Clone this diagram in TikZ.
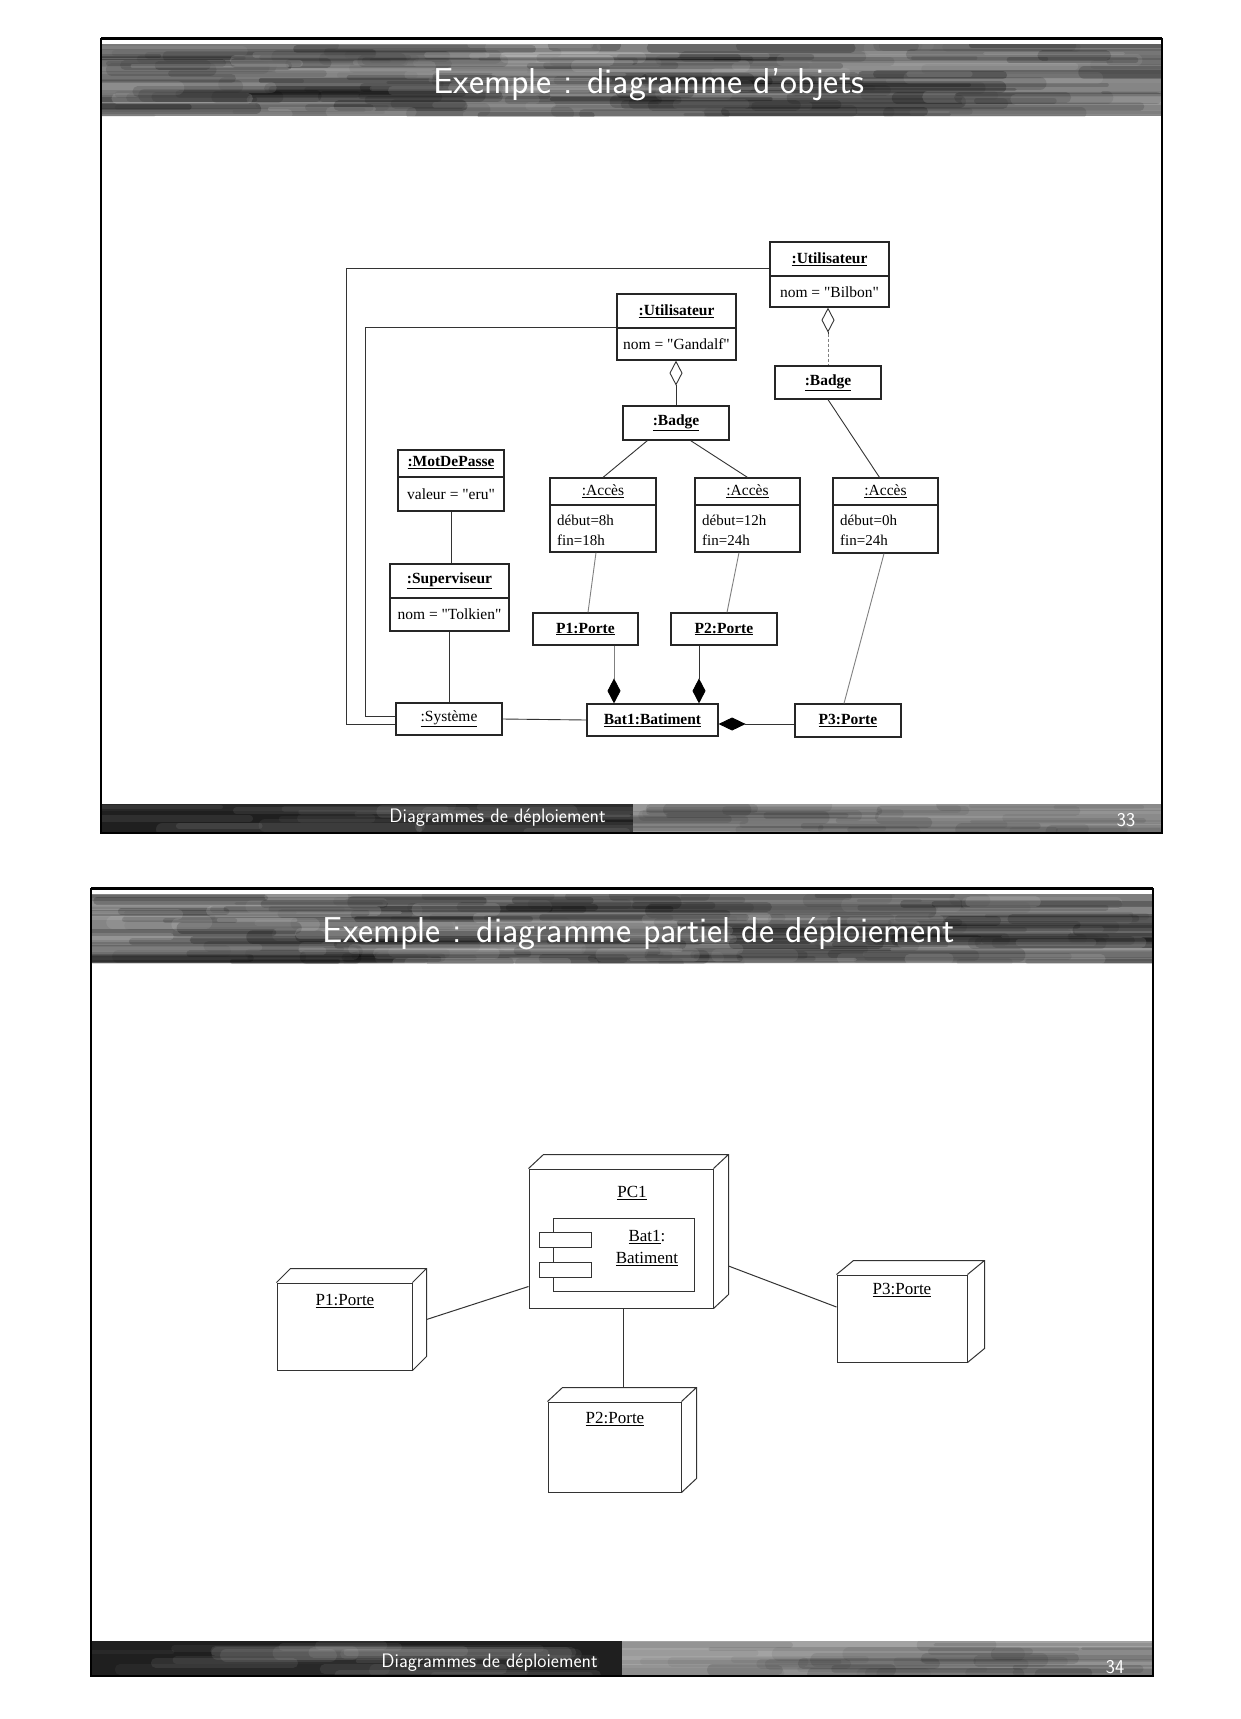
\documentclass[tikz,border=0pt]{standalone}
\usepackage{fontspec}
\setmainfont{Liberation Serif}
\usetikzlibrary{arrows.meta,calc}
\font\umlq="Liberation Serif" at 15.5pt
\newcommand{\dq}{{\umlq"}}
\newcommand{\uln}[1]{\underline{#1}}
% streak texture: x1 y1 x2 y2 count colour opacitymax
\newcommand{\streaks}[7]{%
  \begin{scope}
    \clip (#1,#2) rectangle (#3,#4);
    \foreach \i in {1,...,#5} {
      \pgfmathsetmacro{\sx}{#1+rnd*(#3-#1)}
      \pgfmathsetmacro{\sy}{#2+rnd*(#4-#2)}
      \pgfmathsetmacro{\sl}{60+rnd*340}
      \pgfmathsetmacro{\sw}{3+rnd*11}
      \pgfmathsetmacro{\so}{0.04+rnd*#7}
      \draw[line width=\sw pt, line cap=round, #6, opacity=\so] (\sx-\sl/2,\sy) -- (\sx+\sl/2,\sy);
    }
  \end{scope}}
\newcommand{\threed}[3]{%
  \draw[box3] (#1.north west) -- ++(#2,#3) -- ($(#1.north east)+(#2,#3)$) -- ($(#1.south east)+(#2,#3)$) -- (#1.south east)
              (#1.north east) -- ++(#2,#3);}
\begin{document}
\begin{tikzpicture}[x=1pt,y=-1pt,
  obj/.style={draw=black!85, line width=1.2pt, inner sep=0pt, font=\fontsize{15.5}{19}\selectfont\bfseries},
  objr/.style={obj, font=\fontsize{15.5}{19}\selectfont},
  hd/.style={inner sep=0pt, font=\fontsize{15.5}{19}\selectfont\bfseries},
  hdr/.style={inner sep=0pt, font=\fontsize{15.5}{19}\selectfont},
  att/.style={inner sep=0pt, font=\fontsize{15}{20}\selectfont, align=left, anchor=west},
  div/.style={draw=black!85, line width=1.2pt},
  lnk/.style={draw=black!80, line width=0.9pt},
  faint/.style={draw=black!50, line width=0.9pt},
  odia/.style={{Diamond[open,length=25pt,width=13pt,black!80]}-},
  fdia/.style={-{Diamond[length=25pt,width=13pt,black]}},
  sdia/.style={{Diamond[length=27pt,width=13pt,black]}-},
  box3/.style={draw=black!80, line width=1pt, inner sep=0pt},
  lbl/.style={inner sep=0pt, font=\fontsize{17}{20}\selectfont},
  ttl/.style={inner sep=0pt, text=white, font=\sffamily\fontsize{36}{40}\selectfont},
  ftr/.style={inner sep=0pt, text=white, font=\sffamily\fontsize{19.5}{22}\selectfont}]
\useasboundingbox (0,0) rectangle (1240,1719);
\fill[white] (0,0) rectangle (1240,1719);
\pgfmathsetseed{11}

% ================= slide 1 frame =================
\fill[black!48] (101,44) rectangle (1162,116);
\streaks{101}{44}{1162}{116}{140}{black}{0.22}
\streaks{101}{44}{1162}{116}{50}{white}{0.10}
\fill[black!88] (101,804) rectangle (633,833);
\streaks{101}{804}{633}{833}{20}{white}{0.05}
\fill[black!36] (633,804) rectangle (1162,833);
\streaks{633}{804}{1162}{833}{35}{black}{0.08}
\draw[line width=3pt] (101,38) -- (1162,38);
\draw[line width=2pt] (101,38) -- (101,833) -- (1162,833) -- (1162,38);
\node[ttl] (t1) at (649,85) {Exemple : diagramme d’objets};
\node[ftr, anchor=east] (f1) at (606,818) {Diagrammes de déploiement};
\node[ftr] (n1) at (1126,820) {33};

% ================= object diagram =================
\node[obj, minimum width=119pt, minimum height=65pt] (bilbon) at (829.5,274.5) {};
\node[hd] (bilbonH) at (829.5,259) {\uln{:Utilisateur}};
\node[hdr] (bilbonA) at (829.5,292) {nom = \dq Bilbon\dq};
\draw[div] (bilbon.west |- 0,276) -- (bilbon.east |- 0,276);

\node[obj, minimum width=119pt, minimum height=66pt] (gandalf) at (676.5,327) {};
\node[hd] (gandalfH) at (676.5,311) {\uln{:Utilisateur}};
\node[hdr] (gandalfA) at (676.5,344) {nom = \dq Gandalf\dq};
\draw[div] (gandalf.west |- 0,328) -- (gandalf.east |- 0,328);

\node[obj, minimum width=106pt, minimum height=34pt] (badge1) at (676,423) {\uln{:Badge}};
\node[obj, minimum width=106pt, minimum height=33pt] (badge2) at (828,382.5) {\uln{:Badge}};

\node[obj, minimum width=106pt, minimum height=61pt] (mdp) at (451,480.5) {};
\node[hd] (mdpH) at (451,463) {\uln{:MotDePasse}};
\node[hdr] (mdpA) at (451,494) {valeur = \dq eru\dq};
\draw[div] (mdp.west |- 0,477) -- (mdp.east |- 0,477);

\node[obj, minimum width=119pt, minimum height=67pt] (sup) at (449.5,597.5) {};
\node[hd] (supH) at (449.5,581) {\uln{:Superviseur}};
\node[hdr] (supA) at (449.5,614) {nom = \dq Tolkien\dq};
\draw[div] (sup.west |- 0,598) -- (sup.east |- 0,598);

\node[objr, minimum width=106pt, minimum height=32pt] (sys) at (449,719) {\uln{:Système}};
\node[obj, minimum width=131pt, minimum height=32pt] (bat1) at (652.5,720) {\uln{Bat1:Batiment}};

\node[obj, minimum width=106pt, minimum height=74pt] (acc1) at (603,515) {};
\node[hdr] (acc1H) at (603,491) {\uln{:Accès}};
\node[att] (acc1A) at (557,530) {début=8h\\fin=18h};
\draw[div] (acc1.west |- 0,505) -- (acc1.east |- 0,505);

\node[obj, minimum width=105pt, minimum height=74pt] (acc2) at (747.5,515) {};
\node[hdr] (acc2H) at (747.5,491) {\uln{:Accès}};
\node[att] (acc2A) at (702,530) {début=12h\\fin=24h};
\draw[div] (acc2.west |- 0,505) -- (acc2.east |- 0,505);

\node[obj, minimum width=105pt, minimum height=75pt] (acc3) at (885.5,515.5) {};
\node[hdr] (acc3H) at (885.5,491) {\uln{:Accès}};
\node[att] (acc3A) at (840,530) {début=0h\\fin=24h};
\draw[div] (acc3.west |- 0,505) -- (acc3.east |- 0,505);

\node[obj, minimum width=105pt, minimum height=32pt] (p1) at (585.5,629) {\uln{P1:Porte}};
\node[obj, minimum width=106pt, minimum height=32pt] (p2) at (724,629) {\uln{P2:Porte}};
\node[obj, minimum width=106pt, minimum height=33pt] (p3) at (848,720.5) {\uln{P3:Porte}};

\coordinate (d1) at (614,0);
\coordinate (d2) at (699,0);
\coordinate (d3) at (0,724);

% connectors
\draw[lnk] (bilbon.west |- 0,268) -| (346,724) -- (sys.west |- 0,724);
\draw[lnk] (gandalf.west |- 0,327) -| (365,716) -- (sys.west |- 0,716);
\draw[lnk] (mdp.south) -- (mdp.south |- sup.north);
\draw[lnk] (sup.south) -- (sup.south |- sys.north);
\draw[lnk] (sys.east) -- (bat1.west);
\draw[lnk, odia] (badge1.north |- gandalf.south) -- (badge1.north);
\draw[lnk, odia] (badge2.north |- bilbon.south) -- ++(0,26);
\draw[faint, densely dashed] ($(badge2.north |- bilbon.south)+(0,26)$) -- (badge2.north);
\draw[lnk] ($(badge1.south west)+(25,0)$) -- (acc1.north);
\draw[lnk] ($(badge1.south east)+(-39,0)$) -- (acc2.north);
\draw[lnk] (badge2.south) -- ($(acc3.north)+(-6,0)$);
\draw[faint] ($(acc1.south)+(-7,0)$) -- ($(p1.north)+(2.5,0)$);
\draw[faint] ($(acc2.south)+(-8.5,0)$) -- ($(p2.north)+(3,0)$);
\draw[faint] ($(acc3.south)+(-1.5,0)$) -- ($(p3.north)+(-4,0)$);
\draw[faint, fdia] (p1.south -| d1) -- (bat1.north -| d1);
\draw[lnk, fdia] (p2.south -| d2) -- (bat1.north -| d2);
\draw[lnk, sdia] (bat1.east |- d3) -- (p3.west |- d3);

% ================= slide 2 frame =================
\fill[black!48] (91,894) rectangle (1153,963);
\streaks{91}{894}{1153}{963}{140}{black}{0.22}
\streaks{91}{894}{1153}{963}{50}{white}{0.10}
\fill[black!88] (91,1641) rectangle (622,1676);
\streaks{91}{1641}{622}{1676}{20}{white}{0.05}
\fill[black!36] (622,1641) rectangle (1153,1676);
\streaks{622}{1641}{1153}{1676}{35}{black}{0.08}
\draw[line width=3pt] (91,888) -- (1153,888);
\draw[line width=2pt] (91,888) -- (91,1676) -- (1153,1676) -- (1153,888);
\node[ttl] (t2) at (639,934) {Exemple : diagramme partiel de déploiement};
\node[ftr, anchor=east] (f2) at (598,1663) {Diagrammes de déploiement};
\node[ftr] (n2) at (1115,1667) {34};

% ================= deployment diagram =================
\node[box3, minimum width=184pt, minimum height=139pt] (pc1) at (621,1238.5) {};
\threed{pc1}{15}{-14}
\node[lbl] (pc1L) at (632,1193) {\uln{PC1}};
\node[box3, minimum width=141pt, minimum height=73pt] (cmp) at (623.5,1254.5) {};
\node[box3, fill=white, minimum width=52pt, minimum height=15pt] (cmpA) at (565,1239.5) {};
\node[box3, fill=white, minimum width=52pt, minimum height=15pt] (cmpB) at (565,1269.5) {};
\node[lbl] (cmpL1) at (647,1237) {\uln{Bat1}:};
\node[lbl] (cmpL2) at (647,1259) {\uln{Batiment}};

\node[box3, minimum width=135pt, minimum height=87pt] (q1) at (344.5,1326.5) {};
\threed{q1}{14}{-14}
\node[lbl] (q1L) at (345,1301) {\uln{P1:Porte}};

\node[box3, minimum width=133pt, minimum height=90pt] (q2) at (614.5,1447) {};
\threed{q2}{15}{-14}
\node[lbl] (q2L) at (615,1419) {\uln{P2:Porte}};

\node[box3, minimum width=130pt, minimum height=87pt] (q3) at (902,1318.5) {};
\threed{q3}{17}{-14}
\node[lbl] (q3L) at (902,1290) {\uln{P3:Porte}};

\coordinate (c2) at (623,0);
\draw[box3] ($(q1.east)+(14,-7)$) -- ($(pc1.south west)+(0,-22)$);
\draw[box3] (pc1.south -| c2) -- ($(q2.north -| c2)+(0,-14)$);
\draw[box3] ($(pc1.east)+(15,27.5)$) -- ($(q3.west)+(0,-11.5)$);
\end{tikzpicture}
\end{document}
